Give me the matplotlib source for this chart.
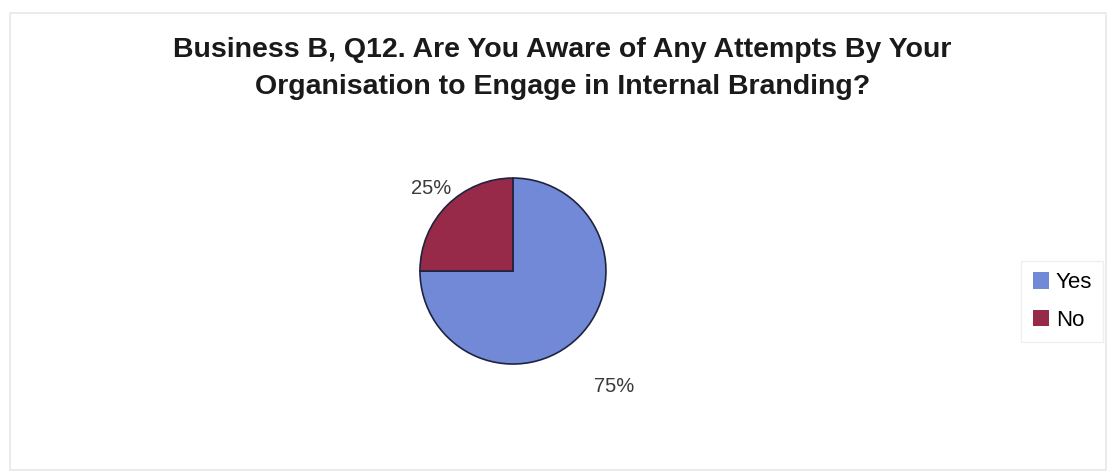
import numpy as np
import matplotlib.pyplot as plt

labels = ["Yes", "No"]
shares = [75, 25]
colors = ["#7189d6", "#962a48"]
label_radius = [1.65, 1.25]

plt.rcParams["font.family"] = ["Liberation Sans", "DejaVu Sans"]

fig = plt.figure(figsize=(11.09, 4.74), dpi=100)
fig.patch.set_facecolor("white")

# faint frame around the chart area
frame = plt.Rectangle((0.009, 0.008), 0.988, 0.964, transform=fig.transFigure,
                      fill=False, edgecolor="#e8e8e8", linewidth=1.2)
fig.add_artist(frame)

fig.text(0.507, 0.855, "Business B, Q12. Are You Aware of Any Attempts By Your\n"
         "Organisation to Engage in Internal Branding?",
         ha="center", va="center", fontsize=20.5, fontweight="bold",
         color="#1a1a1a", linespacing=1.55)

ax = fig.add_axes([0.3787, 0.232, 0.1677, 0.3924])
wedges, _ = ax.pie(shares, colors=colors, startangle=90, counterclock=False,
                   wedgeprops=dict(edgecolor="#1e2340", linewidth=1.2))
ax.set_xlim(-1, 1)
ax.set_ylim(-1, 1)
ax.set_aspect("equal")

for w, v, r in zip(wedges, shares, label_radius):
    mid = np.deg2rad((w.theta1 + w.theta2) / 2 - (4 if v > 50 else 0))
    ax.text(r * np.cos(mid), r * np.sin(mid), f"{v}%", ha="center",
            va="center", fontsize=14.5, color="#3a3a3a", clip_on=False)

leg = fig.legend(wedges, labels, loc="center left",
                 bbox_to_anchor=(0.921, 0.364), frameon=True, fontsize=16,
                 handlelength=0.75, handleheight=0.75, handletextpad=0.3,
                 labelspacing=0.75, borderaxespad=0, borderpad=0.5,
                 fancybox=False)
leg.get_frame().set_edgecolor("#ececec")
leg.get_frame().set_linewidth(1.0)
for h in leg.legend_handles:
    h.set_edgecolor("none")

fig.savefig("out.png", dpi=100, facecolor="white")
